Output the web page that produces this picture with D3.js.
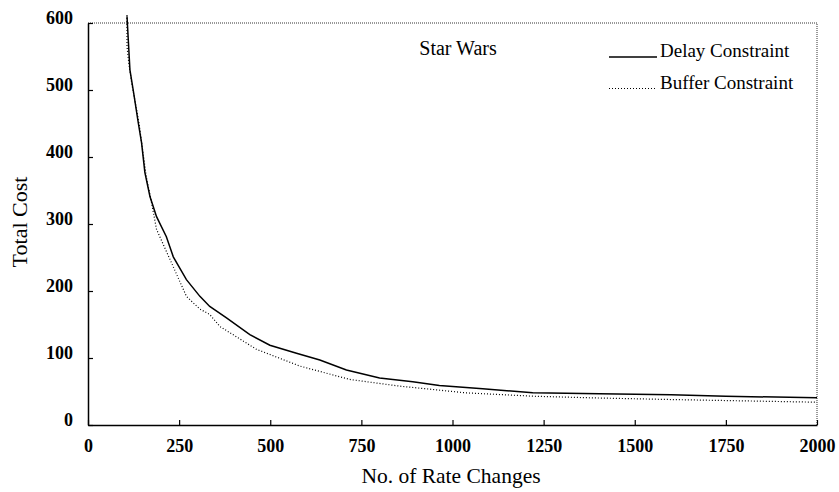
<!DOCTYPE html>
<html>
<head>
<meta charset="utf-8">
<script src="https://cdn.jsdelivr.net/npm/d3@7"></script>
<style>
  body { margin: 0; background: #fff; }
  svg text { font-family: "Liberation Serif", "Times New Roman", serif; fill: #000; }
</style>
</head>
<body>
<div id="chart"></div>
<script>
// values
const xTicks = [0, 250, 500, 750, 1000, 1250, 1500, 1750, 2000];
const yTicks = [0, 100, 200, 300, 400, 500, 600];

const delayRate = [107, 108, 112, 115, 124, 138, 147, 156, 170, 188, 215, 234, 270, 307, 334, 380, 444, 499, 572, 636, 709, 800, 891, 964, 1083, 1220, 1403, 1600, 1750, 2000];
const delayCost = [610, 600, 560, 530, 500, 451, 421, 377, 341, 311, 281, 251, 217, 192, 177, 160, 135, 119, 107, 97, 82, 70, 64.5, 59, 54, 48, 46.5, 45, 43, 40.5];

const bufferRate = [107, 107, 112, 120, 130, 140, 150, 160, 175, 188, 225, 270, 307, 334, 362, 462, 581, 718, 855, 1037, 1220, 1384, 1600, 1800, 2000];
const bufferCost = [612, 565, 540, 510, 480, 450, 410, 370, 330, 292, 247, 192, 173, 165, 147, 113, 88, 68, 58, 48, 43, 40.5, 38, 36, 34];

const series = [
  { name: "Delay Constraint", rate: delayRate, cost: delayCost, dash: null, width: 1.5 },
  { name: "Buffer Constraint", rate: bufferRate, cost: bufferCost, dash: "1,2", width: 1.2 }
];

const width = 839, height = 492;
const margin = { left: 88, right: 22, top: 23, bottom: 67 };

const svg = d3.select("#chart").append("svg")
  .attr("width", width)
  .attr("height", height);

const x = d3.scaleLinear().domain([0, 2000]).range([margin.left, width - margin.right]);
const y = d3.scaleLinear().domain([0, 600]).range([height - margin.bottom, margin.top]);

// dotted frame top and right
svg.append("path")
  .attr("d", `M${x(0)},${y(600)}H${x(2000)}V${y(0)}`)
  .attr("fill", "none")
  .attr("stroke", "#333")
  .attr("stroke-width", 1)
  .attr("stroke-dasharray", "1,1");

// axes with ticks pointing inside
const xAxis = svg.append("g")
  .attr("transform", `translate(0,${y(0)})`)
  .call(d3.axisBottom(x).tickValues(xTicks).tickFormat(d3.format("d"))
    .tickSizeInner(-5).tickSizeOuter(0).tickPadding(14));
const yAxis = svg.append("g")
  .attr("transform", `translate(${x(0)},0)`)
  .call(d3.axisLeft(y).tickValues(yTicks).tickFormat(d3.format("d"))
    .tickSizeInner(-5).tickSizeOuter(0).tickPadding(15));

[xAxis, yAxis].forEach(g => {
  g.select(".domain").attr("stroke", "#000").attr("stroke-width", 1.5);
  g.selectAll(".tick line").attr("stroke", "#000").attr("stroke-width", 1.2);
  g.selectAll(".tick text")
    .style("font-family", "'Liberation Serif', 'Times New Roman', serif")
    .style("font-size", "18px")
    .style("font-weight", "bold");
});
yAxis.selectAll(".tick text").attr("y", -5);

// curves
const line = d3.line().x(d => x(d[0])).y(d => y(d[1]));
series.forEach(s => {
  const pts = s.rate.map((r, i) => [r, s.cost[i]]);
  svg.append("path")
    .datum(pts)
    .attr("d", line)
    .attr("fill", "none")
    .attr("stroke", "#000")
    .attr("stroke-width", s.width)
    .attr("stroke-dasharray", s.dash);
});

// titles
svg.append("text")
  .attr("x", 451)
  .attr("y", 483)
  .attr("text-anchor", "middle")
  .style("font-size", "21.5px")
  .text("No. of Rate Changes");

svg.append("text")
  .attr("transform", `translate(27,222) rotate(-90)`)
  .attr("text-anchor", "middle")
  .style("font-size", "22px")
  .text("Total Cost");

svg.append("text")
  .attr("x", 458)
  .attr("y", 55)
  .attr("text-anchor", "middle")
  .style("font-size", "20px")
  .text("Star Wars");

// legend
const legend = svg.append("g");
series.forEach((s, i) => {
  const ly = 57 + i * 31.5;
  legend.append("line")
    .attr("x1", 609).attr("x2", 657)
    .attr("y1", ly).attr("y2", ly)
    .attr("stroke", "#000")
    .attr("stroke-width", s.width)
    .attr("stroke-dasharray", s.dash);
  legend.append("text")
    .attr("x", 660)
    .attr("y", ly)
    .style("font-size", "19px")
    .text(s.name);
});
</script>
</body>
</html>
